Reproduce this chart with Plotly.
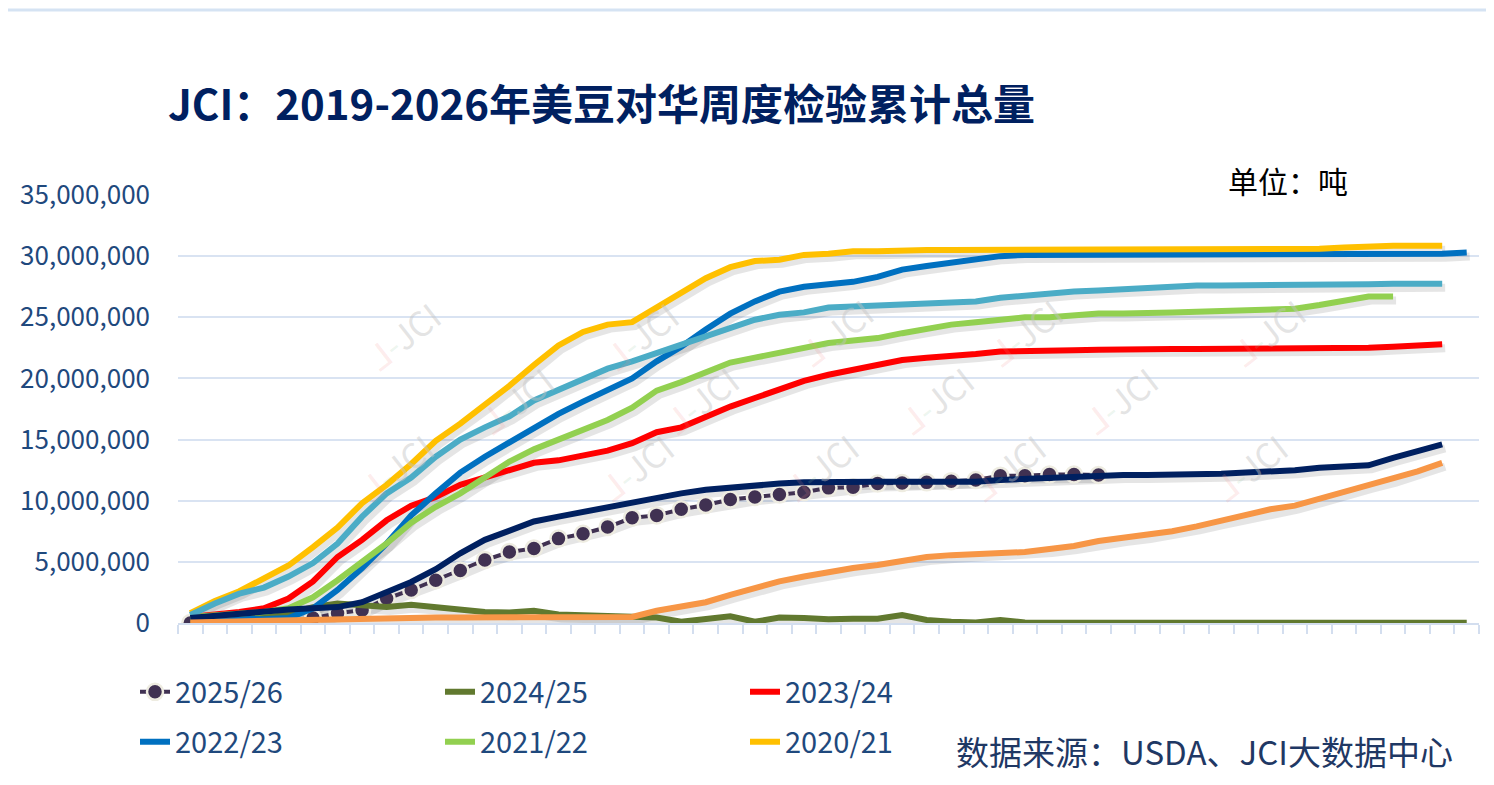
import plotly.graph_objects as go

# 周度（市场年度第1周起），累计检验量，单位：百万吨
weeks = list(range(1, 54))

y2526 = [0, 0, 0, 0, 0, 0.4, 0.8, 1.05, 2.0, 2.7,
         3.5, 4.3, 5.15, 5.8, 6.1, 6.9, 7.3, 7.85, 8.6, 8.8,
         9.3, 9.65, 10.1, 10.3, 10.5, 10.7, 11.05, 11.1, 11.4, 11.45,
         11.5, 11.6, 11.7, 12.05, 12.05, 12.15, 12.15, 12.1]

y2425 = [0.2, 0.3, 0.4, 0.5, 0.8, 1.3, 1.6, 1.45, 1.3, 1.5,
         1.3, 1.1, 0.9, 0.85, 1.0, 0.7, 0.65, 0.6, 0.5, 0.45,
         0.1, 0.35, 0.55, 0.1, 0.45, 0.4, 0.3, 0.35, 0.35, 0.65,
         0.25, 0.1, 0.05, 0.25, 0.05, 0.02, 0.02, 0.02, 0.05, 0.05,
         0.02, 0.02, 0.02, 0.02, 0.02, 0.02, 0.02, 0.02, 0.02, 0.02,
         0.02, 0.02, 0.02]

y2324 = [0.5, 0.65, 0.9, 1.2, 2.0, 3.4, 5.4, 6.8, 8.4, 9.6,
         10.3, 11.3, 11.9, 12.5, 13.1, 13.3, 13.7, 14.1, 14.7, 15.6,
         16.0, 16.9, 17.7, 18.4, 19.1, 19.8, 20.3, 20.7, 21.2, 21.5,
         21.7, 21.8, 22.0, 22.2, 22.2, 22.3, 22.3, 22.35, 22.4, 22.4,
         22.4, 22.4, 22.4, 22.4, 22.4, 22.4, 22.4, 22.5, 22.5, 22.6,
         22.65, 22.8]

y2223 = [0.5, 0.4, 0.3, 0.3, 0.4, 1.2, 2.7, 4.5, 6.5, 8.8,
         10.6, 12.3, 13.6, 14.8, 16.0, 17.1, 18.1, 19.0, 20.0, 21.4,
         22.6, 24.0, 25.3, 26.3, 27.1, 27.5, 27.7, 27.9, 28.3, 28.9,
         29.2, 29.5, 29.8, 30.0, 30.1, 30.1, 30.1, 30.1, 30.1, 30.1,
         30.1, 30.1, 30.1, 30.1, 30.1, 30.1, 30.1, 30.1, 30.1, 30.1,
         30.1, 30.2, 30.3]

y2122 = [0.5, 0.65, 0.8, 0.9, 1.2, 2.1, 3.5, 5.0, 6.5, 8.2,
         9.5, 10.6, 11.9, 13.2, 14.2, 15.0, 15.8, 16.6, 17.6, 19.0,
         19.7, 20.5, 21.3, 21.7, 22.1, 22.6, 22.9, 23.1, 23.3, 23.7,
         24.1, 24.4, 24.6, 24.8, 25.0, 25.0, 25.2, 25.3, 25.3, 25.4,
         25.4, 25.45, 25.5, 25.6, 25.6, 25.7, 26.0, 26.3, 26.7, 26.7]

y2021 = [0.8, 1.8, 2.6, 3.7, 4.7, 6.2, 7.8, 9.8, 11.3, 13.0,
         14.9, 16.3, 17.8, 19.4, 21.1, 22.7, 23.8, 24.4, 24.6, 25.8,
         27.1, 28.2, 29.1, 29.6, 29.7, 30.1, 30.2, 30.4, 30.4, 30.5,
         30.5, 30.5, 30.5, 30.5, 30.5, 30.5, 30.5, 30.6, 30.6, 30.6,
         30.6, 30.6, 30.6, 30.6, 30.6, 30.6, 30.6, 30.7, 30.8, 30.85,
         30.85, 30.85]

# 图例中未列出的三个年度
y_teal = [0.65, 1.6, 2.4, 2.9, 3.8, 4.9, 6.5, 8.7, 10.6, 11.9,
          13.6, 15.0, 16.0, 16.9, 18.2, 19.1, 20.0, 20.8, 21.4, 22.1,
          22.8, 23.4, 24.1, 24.8, 25.2, 25.4, 25.8, 25.9, 26.0, 26.1,
          26.2, 26.3, 26.3, 26.6, 26.8, 26.9, 27.1, 27.2, 27.3, 27.5,
          27.6, 27.6, 27.6, 27.6, 27.6, 27.6, 27.6, 27.65, 27.7, 27.75,
          27.75, 27.75]

y_navy = [0.4, 0.6, 0.8, 1.0, 1.1, 1.2, 1.3, 1.7, 2.5, 3.35,
          4.4, 5.7, 6.8, 7.6, 8.3, 8.7, 9.1, 9.4, 9.8, 10.3,
          10.6, 10.9, 11.1, 11.3, 11.4, 11.5, 11.55, 11.55, 11.55, 11.55,
          11.55, 11.55, 11.55, 11.7, 11.8, 11.9, 11.95, 12.1, 12.1, 12.1,
          12.1, 12.1, 12.2, 12.3, 12.35, 12.5, 12.7, 12.75, 12.9, 13.5,
          14.1, 14.6]

y_orange = [0.05, 0.1, 0.15, 0.2, 0.25, 0.3, 0.35, 0.4, 0.45, 0.45,
            0.45, 0.45, 0.45, 0.45, 0.45, 0.45, 0.45, 0.5, 0.5, 1.0,
            1.3, 1.7, 2.3, 2.9, 3.4, 3.8, 4.2, 4.5, 4.75, 5.1,
            5.4, 5.55, 5.65, 5.7, 5.8, 6.05, 6.3, 6.7, 6.95, 7.2,
            7.5, 7.9, 8.35, 8.75, 9.3, 9.6, 10.15, 10.8, 11.3, 11.8,
            12.4, 13.1]

y_ticks = [0, 5e6, 10e6, 15e6, 20e6, 25e6, 30e6, 35e6]

# (名称, 数据, 颜色, 图例)
series = [
    ("2025/26", y2526, "#403152", "legend"),
    ("2024/25", y2425, "#61792F", "legend"),
    ("2023/24", y2324, "#FF0000", "legend"),
    ("2022/23", y2223, "#0070C0", "legend2"),
    ("2021/22", y2122, "#92D050", "legend2"),
    ("2020/21", y2021, "#FFC000", "legend2"),
    ("2019/20", y_teal, "#4BACC6", None),
    ("2018/19", y_navy, "#002060", None),
    ("2017/18", y_orange, "#F79646", None),
]

# 页面 body 有 8px 默认边距，图本身缩小 8px，坐标均按页面像素换算
OFF = 8
W, H = 1494 - OFF, 785 - OFF
PL, PR, PT, PB = 178, 1479, 195, 623   # 绘图区在页面上的位置
pw, ph = PR - PL, PB - PT


def px(x):
    return (x - PL) / pw


def py(y):
    return (PB - y) / ph


FONT = "Noto Sans CJK SC"
xr = [0.5, 53.5]
yr = [0, 35e6]
# 阴影：向右3px、向下4px（用错位的底层坐标轴画）
dx = 3 / (pw / 53)
dy = 4 / ph * 35e6

fig = go.Figure()

# 阴影层：x/y（底层）
for name, vals, color, lg in series:
    fig.add_trace(go.Scatter(
        x=weeks[:len(vals)], y=[v * 1e6 for v in vals],
        xaxis="x", yaxis="y", mode="lines",
        line=dict(color="rgba(0,0,0,0.10)", width=8),
        hoverinfo="skip", showlegend=False))

# 正式曲线：x2/y2（叠加层，带刻度与网格）
for name, vals, color, lg in series:
    kw = dict(x=weeks[:len(vals)], y=[v * 1e6 for v in vals],
              xaxis="x2", yaxis="y2", name=name,
              showlegend=lg is not None)
    if lg:
        kw["legend"] = lg
    if name == "2025/26":
        fig.add_trace(go.Scatter(
            mode="lines+markers",
            line=dict(color=color, width=4),
            marker=dict(size=16, color=color,
                        line=dict(color="#EEECE1", width=2.5)),
            **kw))
    else:
        fig.add_trace(go.Scatter(mode="lines",
                                 line=dict(color=color, width=6), **kw))

# 水印
wm = [(352, 288), (590, 288), (835, 285), (1075, 285), (1318, 285),
      (465, 400), (700, 400), (935, 400), (1170, 400),
      (345, 515), (585, 515), (820, 515), (1058, 515), (1300, 515)]
for x, y in wm:
    fig.add_annotation(x=px(x), y=py(y), xref="paper", yref="paper",
                       text="<span style='color:rgba(245,140,140,0.40)'>ᒧ</span>"
                            "<span style='color:rgba(150,200,160,0.40)'>-</span>JCI",
                       showarrow=False, textangle=-38,
                       font=dict(family=FONT, size=34, color="rgba(195,195,195,0.45)"))

fig.add_annotation(x=px(166), y=py(101), xref="paper", yref="paper",
                   xanchor="left", yanchor="middle", showarrow=False,
                   text="<b>JCI：2019-2026年美豆对华周度检验累计总量</b>",
                   font=dict(family=FONT, size=42, color="#002060"))
fig.add_annotation(x=px(1288), y=py(180), xref="paper", yref="paper",
                   xanchor="center", yanchor="middle", showarrow=False,
                   text="单位：吨", font=dict(family=FONT, size=30, color="#000000"))
fig.add_annotation(x=px(1455), y=py(751), xref="paper", yref="paper",
                   xanchor="right", yanchor="middle", showarrow=False,
                   text="数据来源：USDA、JCI大数据中心",
                   font=dict(family=FONT, size=33, color="#1F3864"))

# 顶部表格残留线
fig.add_shape(type="line", xref="paper", yref="paper",
              x0=px(0), x1=px(1494), y0=py(10), y1=py(10),
              line=dict(color="#D5E3F3", width=3))

legend_common = dict(orientation="h", xanchor="left", yanchor="middle",
                     entrywidth=260, entrywidthmode="pixels",
                     bgcolor="rgba(0,0,0,0)",
                     font=dict(family=FONT, size=29, color="#1F497D"))

fig.update_layout(
    width=W, height=H,
    margin=dict(l=PL - OFF, r=W - (PR - OFF), t=PT - OFF, b=H - (PB - OFF)),
    paper_bgcolor="white", plot_bgcolor="white",
    font=dict(family=FONT),
    showlegend=True,
    legend=dict(x=px(135), y=py(692), **legend_common),
    legend2=dict(x=px(135), y=py(742), **legend_common),
    xaxis=dict(range=[xr[0] - dx, xr[1] - dx], showgrid=False, zeroline=False,
               showticklabels=False, ticks="", showline=False),
    yaxis=dict(range=[yr[0] + dy, yr[1] + dy], showgrid=False, zeroline=False,
               showticklabels=False, ticks="", showline=False),
    xaxis2=dict(range=xr, overlaying="x", anchor="y2", side="bottom",
                tick0=0.5, dtick=1, ticks="outside", ticklen=9,
                tickwidth=1.5, tickcolor="#D3DEEF", showticklabels=False,
                showgrid=False, zeroline=False, showline=True,
                linecolor="#D3DEEF", linewidth=2),
    yaxis2=dict(range=yr, overlaying="y", anchor="x2", side="left",
                tickvals=y_ticks, tickformat=",d",
                showgrid=True, gridcolor="#D9E3F2", gridwidth=2,
                zeroline=False, showline=False, ticks="",
                ticklabelstandoff=27,
                tickfont=dict(family=FONT, size=26, color="#1F497D")),
)

fig.write_html("out.html")
